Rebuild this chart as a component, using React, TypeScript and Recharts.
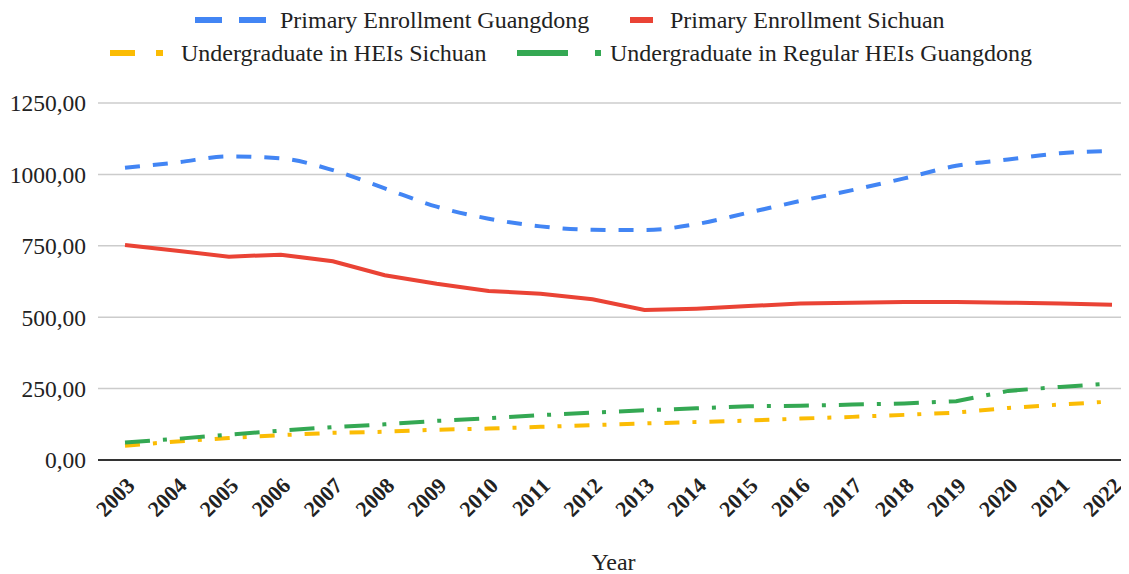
import React from 'react';
import { LineChart, Line, XAxis, YAxis, CartesianGrid, Legend, Label } from 'recharts';

const years = ['2003','2004','2005','2006','2007','2008','2009','2010','2011','2012','2013','2014','2015','2016','2017','2018','2019','2020','2021','2022'];
const primaryGuangdong = [1023,1042,1063,1056,1015,951,887,845,818,806,805,826,866,907,945,986,1030,1052,1074,1082];
const primarySichuan = [753,733,712,719,696,647,617,592,582,563,525,530,539,548,551,553,553,551,548,544];
const heiSichuan = [50,65,77,87,95,99,106,110,116,122,128,133,138,145,151,158,166,182,194,205];
const heiGuangdong = [61,74,89,103,115,125,137,146,157,166,174,181,188,190,194,198,206,242,256,268];
const yTicks = [0, 250, 500, 750, 1000, 1250];

const data = years.map((y, i) => ({
  year: y,
  pg: primaryGuangdong[i],
  ps: primarySichuan[i],
  hs: heiSichuan[i],
  hg: heiGuangdong[i],
}));

const FONT = "'Liberation Serif', 'Times New Roman', serif";
const BLUE = '#4285F4';
const RED = '#EA4335';
const YELLOW = '#FBBC04';
const GREEN = '#34A853';

const textStyle: React.CSSProperties = {
  position: 'absolute',
  fontFamily: FONT,
  fontSize: 24,
  color: '#222',
  lineHeight: '24px',
  whiteSpace: 'nowrap',
};

const LegendContent = () => (
  <div style={{ position: 'relative', width: 1121, height: 95 }}>
    {/* Row 1 */}
    <svg style={{ position: 'absolute', left: 187, top: 9 }} width={72} height={6}>
      <rect x={0} y={0} width={27} height={6} fill={BLUE} />
      <rect x={44} y={0} width={27} height={6} fill={BLUE} />
    </svg>
    <div style={{ ...textStyle, left: 272, top: 0 }}>Primary Enrollment Guangdong</div>
    <svg style={{ position: 'absolute', left: 622, top: 9 }} width={24} height={6}>
      <rect x={0} y={0} width={23} height={6} fill={RED} />
    </svg>
    <div style={{ ...textStyle, left: 662, top: 0 }}>Primary Enrollment Sichuan</div>
    {/* Row 2 */}
    <svg style={{ position: 'absolute', left: 102, top: 42 }} width={56} height={6}>
      <rect x={0} y={0} width={25} height={6} fill={YELLOW} />
      <rect x={46} y={0} width={7} height={6} fill={YELLOW} />
    </svg>
    <div style={{ ...textStyle, left: 173, top: 33 }}>Undergraduate in HEIs Sichuan</div>
    <svg style={{ position: 'absolute', left: 509, top: 42 }} width={86} height={6}>
      <rect x={0} y={0} width={51} height={6} fill={GREEN} />
      <rect x={78} y={0} width={6} height={6} fill={GREEN} />
    </svg>
    <div style={{ ...textStyle, left: 602, top: 33 }}>Undergraduate in Regular HEIs Guangdong</div>
  </div>
);

const XTick = (props: any) => {
  const { x, y, payload } = props;
  return (
    <g transform={`translate(${x + 11},${y + 19})`}>
      <text
        x={0}
        y={0}
        transform="rotate(-45)"
        textAnchor="end"
        fontFamily={FONT}
        fontSize={22}
        fontWeight="bold"
        fill="#222"
      >
        {payload.value}
      </text>
    </g>
  );
};

const fmt = (v: number) => v.toFixed(2).replace('.', ',');

export default function App() {
  return (
    <LineChart
      width={1121}
      height={566}
      data={data}
      margin={{ top: 0, right: 0, bottom: 0, left: 0 }}
    >
      <CartesianGrid vertical={false} stroke="#cccccc" strokeWidth={1.5} />
      <XAxis
        dataKey="year"
        height={114}
        interval={0}
        tick={<XTick />}
        tickLine={false}
        axisLine={{ stroke: '#333', strokeWidth: 2 }}
        padding={{ left: 27, right: 17 }}
      >
        <Label
          value="Year"
          position="insideBottom"
          offset={4}
          style={{ fontFamily: FONT, fontSize: 24, fill: '#222' }}
        />
      </XAxis>
      <YAxis
        width={90}
        domain={[0, 1250]}
        ticks={yTicks}
        tickFormatter={fmt}
        tickLine={false}
        axisLine={false}
        tickMargin={6}
        tick={{ fontFamily: FONT, fontSize: 23.5, fill: '#222' }}
      />
      <Legend verticalAlign="top" align="left" content={<LegendContent />} wrapperStyle={{ left: 0, top: 0 }} />
      <Line type="monotone" dataKey="pg" name="Primary Enrollment Guangdong" stroke={BLUE} strokeWidth={4} strokeDasharray="15 13" dot={false} isAnimationActive={false} />
      <Line type="linear" dataKey="ps" name="Primary Enrollment Sichuan" stroke={RED} strokeWidth={4} dot={false} isAnimationActive={false} />
      <Line type="linear" dataKey="hs" name="Undergraduate in HEIs Sichuan" stroke={YELLOW} strokeWidth={4} strokeDasharray="15 13 4 13" dot={false} isAnimationActive={false} />
      <Line type="linear" dataKey="hg" name="Undergraduate in Regular HEIs Guangdong" stroke={GREEN} strokeWidth={4} strokeDasharray="25 13 4 13" dot={false} isAnimationActive={false} />
    </LineChart>
  );
}
